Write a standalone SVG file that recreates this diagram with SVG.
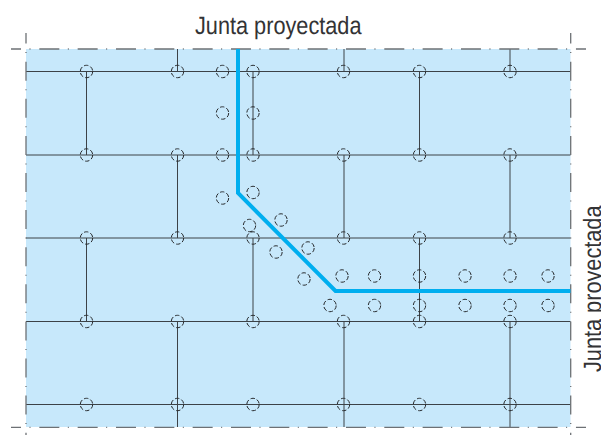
<svg xmlns="http://www.w3.org/2000/svg" width="601" height="435" viewBox="0 0 601 435">
<style>
.panel{fill:#c7e8fb}
.grid{stroke:#3c4247;stroke-width:1;fill:none}
.bh{stroke:#6d7175;stroke-width:1.3;fill:none;stroke-dasharray:20 8.5 1 8.83;stroke-dashoffset:10}
.bv{stroke:#6d7175;stroke-width:1.3;fill:none;stroke-dasharray:19 8.5 1 8.6;stroke-dashoffset:8.4}
.seam{stroke:#00aeef;stroke-width:4;fill:none;stroke-linejoin:miter}
.hole{fill:none;stroke:#26292c;stroke-width:1;stroke-dasharray:4.4 2.1}
.label{font-family:"Liberation Sans",Arial,sans-serif;font-size:25px;fill:#333335;text-rendering:geometricPrecision}
</style>
<defs><circle id="h" r="6.2" class="hole"/></defs>
<rect class="panel" x="26" y="49" width="544.5" height="378"/>
<g id="connectors">
<path class="grid" d="M26 71.500H570.500M26 155H570.500M26 238H570.500M26 321.500H570.500M26 404.500H570.500"/>
<path class="grid" d="M86.500 71.500V155M86.500 238V321.500M177.500 49V71.500M177.500 155V238M177.500 321.500V427M253 71.500V155M253 238V321.500M344 49V71.500M344 155V238M344 321.500V427M419.500 71.500V155M419.500 238V321.500M510 49V71.500M510 155V238M510 321.500V427"/>
<path class="bh" d="M11 49H586M11 427.300H586"/>
<path class="bv" d="M26 33V435M570.700 33V435"/>
<path id="junta" class="seam" d="M238 49V193L335.500 291H570.500"/>
</g>
<g id="holes">
<use href="#h" x="86.500" y="71.500"/><use href="#h" x="177.500" y="71.500"/><use href="#h" x="222.500" y="71.500"/><use href="#h" x="253" y="71.500"/><use href="#h" x="343.500" y="71.500"/><use href="#h" x="419.500" y="71.500"/><use href="#h" x="510" y="71.500"/>
<use href="#h" x="222.500" y="113"/><use href="#h" x="253" y="113"/>
<use href="#h" x="86.500" y="155"/><use href="#h" x="177.500" y="155"/><use href="#h" x="222.500" y="155"/><use href="#h" x="253" y="155"/><use href="#h" x="343.500" y="155"/><use href="#h" x="419.500" y="155"/><use href="#h" x="510" y="155"/>
<use href="#h" x="222.500" y="198"/><use href="#h" x="253" y="192.500"/><use href="#h" x="281" y="220"/><use href="#h" x="249.500" y="225.500"/><use href="#h" x="276" y="252"/><use href="#h" x="308" y="248"/><use href="#h" x="304" y="279"/>
<use href="#h" x="86.500" y="238"/><use href="#h" x="177.500" y="238"/><use href="#h" x="253" y="238"/><use href="#h" x="343.500" y="238"/><use href="#h" x="419.500" y="238"/><use href="#h" x="510" y="238"/>
<use href="#h" x="342" y="276"/><use href="#h" x="374.500" y="276"/><use href="#h" x="419.500" y="276"/><use href="#h" x="465" y="276"/><use href="#h" x="510" y="276"/><use href="#h" x="548" y="276"/>
<use href="#h" x="330" y="305.500"/><use href="#h" x="374.500" y="305.500"/><use href="#h" x="419.500" y="305.500"/><use href="#h" x="465" y="305.500"/><use href="#h" x="510" y="305.500"/><use href="#h" x="548" y="305.500"/>
<use href="#h" x="86.500" y="321.500"/><use href="#h" x="177.500" y="321.500"/><use href="#h" x="253" y="321.500"/><use href="#h" x="343.500" y="321.500"/><use href="#h" x="419.500" y="321.500"/><use href="#h" x="510" y="321.500"/>
<use href="#h" x="86.500" y="404.500"/><use href="#h" x="177.500" y="404.500"/><use href="#h" x="253" y="404.500"/><use href="#h" x="343.500" y="404.500"/><use href="#h" x="419.500" y="404.500"/><use href="#h" x="510" y="404.500"/>
</g>
<g id="labels">
<text class="label" x="195" y="34" textLength="166.500" lengthAdjust="spacingAndGlyphs">Junta proyectada</text>
<text class="label" transform="translate(601 372) rotate(-90)" textLength="166.500" lengthAdjust="spacingAndGlyphs">Junta proyectada</text>
</g>
</svg>
